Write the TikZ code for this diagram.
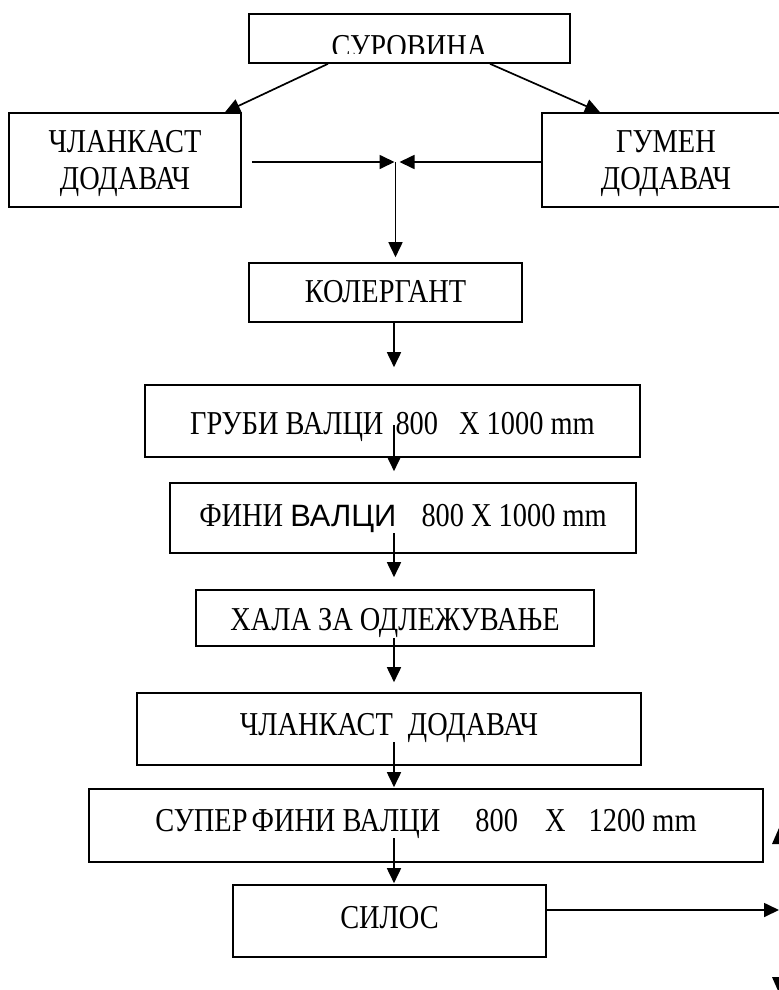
\documentclass[tikz,border=0pt]{standalone}
\usepackage{fontspec}
\setmainfont{Liberation Serif}[FakeStretch=0.85]
\newfontfamily\sansf{Liberation Sans}
\usetikzlibrary{arrows.meta}
\begin{document}
\begin{tikzpicture}[x=1bp,y=-1bp,
  box/.style={draw, line width=1.6bp, rectangle, inner sep=0pt, align=center,
    text height=22bp, text depth=0bp, font=\fontsize{33.5}{37}\selectfont},
  arr/.style={line width=1.7bp, -{Triangle[length=15bp,width=14bp]}},
  tipfill/.style={fill=black}]
\useasboundingbox (0,0) rectangle (779,990);
\clip (0,0) rectangle (779,990);

% boxes
\node[box, minimum width=321bp, minimum height=49bp] (sur) at (409.5,38.5) {};
\begin{scope}
  \clip (249,14) rectangle (570,53);
  \node[anchor=base, inner sep=0pt, font=\fontsize{33.5}{37}\selectfont] (surt) at (409.5,57) {СУРОВИНА};
\end{scope}
\node[box, minimum width=232bp, minimum height=94bp, text height=59bp] (lch) at (125,160) {ЧЛАНКАСТ\\ДОДАВАЧ};
\node[box, minimum width=248bp, minimum height=94bp, text height=59bp] (gum) at (666,160) {ГУМЕН\\ДОДАВАЧ};
\node[box, minimum width=273bp, minimum height=59bp, text depth=3bp] (kol) at (385.5,292.5) {КОЛЕРГАНТ};
\node[box, minimum width=495bp, minimum height=72bp, text height=26bp] (grubi) at (392.5,421) {ГРУБИ ВАЛЦИ\hspace{5bp} 800\hspace{14bp} X 1000 mm};
\node[box, minimum width=466bp, minimum height=70bp, text depth=6bp] (fini) at (403,518) {ФИНИ {\sansf\fontsize{31}{37}\selectfont ВАЛЦИ}\hspace{18bp} 800 X 1000 mm};
\node[box, minimum width=398bp, minimum height=56bp, text depth=0bp, text height=24bp] (hala) at (395,618) {ХАЛА ЗА ОДЛЕЖУВАЊЕ};
\node[box, minimum width=504bp, minimum height=72bp, text depth=10bp] (lch2) at (389,729) {ЧЛАНКАСТ\hspace{8bp} ДОДАВАЧ};
\node[box, minimum width=674bp, minimum height=73bp, text depth=11bp] (super) at (426,825.5) {СУПЕР\hspace{-3bp} ФИНИ ВАЛЦИ\hspace{28bp} 800\hspace{20bp} X\hspace{16bp} 1200 mm};
\node[box, minimum width=313bp, minimum height=72bp, text depth=8bp] (silos) at (389.5,921) {СИЛОС};

% coordinates
\coordinate (j) at (395.5,162);
\coordinate (c1) at (394,322);
\coordinate (c2) at (394,425);
\coordinate (c3) at (394,533);
\coordinate (c4) at (394,638);
\coordinate (c5) at (394,742);
\coordinate (c6) at (394,838);
\coordinate (out) at (779,910);

% connectors
\draw[arr] ([xshift=-81.5bp]sur.south) -- ([xshift=100bp]lch.north);
\draw[arr] ([xshift=80.5bp]sur.south) -- ([xshift=-66bp]gum.north);
\draw[arr, shorten <=10bp, shorten >=1bp] (lch.east |- j) -- (j);
\draw[arr, shorten >=4bp] (gum.west |- j) -- (j);
\draw[arr, shorten >=5bp] (j) -- (j |- kol.north);
\draw[arr, shorten >=17bp] (c1) -- (c1 |- grubi.north);
\draw[arr, shorten >=11bp] (c2) -- (c2 |- fini.north);
\draw[arr, shorten >=12bp] (c3) -- (c3 |- hala.north);
\draw[arr, shorten >=10bp] (c4) -- (c4 |- lch2.north);
\draw[arr, shorten >=1bp] (c5) -- (c5 |- super.north);
\draw[arr, shorten >=1bp] (c6) -- (c6 |- silos.north);
\draw[arr] (silos.east |- out) -- (out);

% partial arrowheads at the right edge
\fill[tipfill] (772,844) -- (779,828) -- (786,844) -- cycle;
\fill[tipfill] (772,977) -- (786,977) -- (779,993) -- cycle;
\end{tikzpicture}
\end{document}
